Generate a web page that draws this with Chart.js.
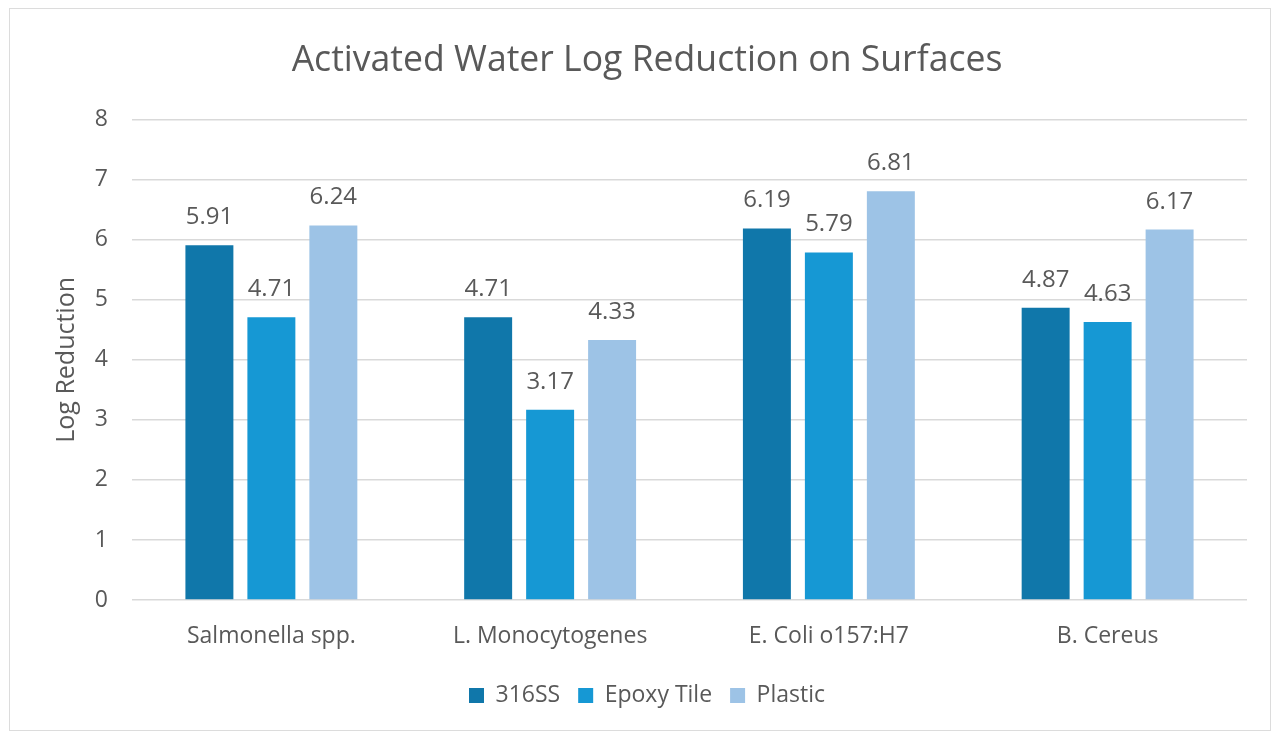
<!DOCTYPE html>
<html>
<head>
<meta charset="utf-8">
<title>Activated Water Log Reduction on Surfaces</title>
<script src="https://cdn.jsdelivr.net/npm/chart.js@4.4.1/dist/chart.umd.min.js"></script>
<style>
  html, body { margin: 0; padding: 0; background: #ffffff; }
  #wrap { position: relative; width: 1282px; height: 733px; }
  #frame {
    position: absolute; left: 9px; top: 8px; width: 1260px; height: 721px;
    border: 1.5px solid #dcdcdc;
  }
  #chart { position: absolute; left: 0; top: 0; }
</style>
</head>
<body>
<div id="wrap">
  <div id="frame"></div>
  <canvas id="chart" width="1282" height="733"></canvas>
</div>
<script>
// Organisms tested (x categories)
const categories = ['Salmonella spp.', 'L. Monocytogenes', 'E. Coli o157:H7', 'B. Cereus'];

// Log reduction per surface material
const ss316 = [5.91, 4.71, 6.19, 4.87];
const epoxyTile = [4.71, 3.17, 5.79, 4.63];
const plastic = [6.24, 4.33, 6.81, 6.17];

const seriesNames = ['316SS', 'Epoxy Tile', 'Plastic'];
const seriesColors = ['#1077aa', '#1698d4', '#9dc3e6'];

// Y axis range and step
const yMin = 0;
const yMax = 8;
const yStep = 1;

const FONT = "'Open Sans', 'Liberation Sans', sans-serif";
const TEXT = '#595959';

// Draws each bar's value above it
const valueLabels = {
  id: 'valueLabels',
  afterDatasetsDraw(chart) {
    const ctx = chart.ctx;
    ctx.save();
    ctx.font = '24px ' + FONT;
    ctx.fillStyle = TEXT;
    ctx.textAlign = 'center';
    ctx.textBaseline = 'alphabetic';
    chart.data.datasets.forEach((ds, i) => {
      const meta = chart.getDatasetMeta(i);
      meta.data.forEach((bar, j) => {
        ctx.fillText(ds.data[j].toFixed(2), bar.x, bar.y - 21);
      });
    });
    ctx.restore();
  }
};

const seriesData = [ss316, epoxyTile, plastic];

new Chart(document.getElementById('chart'), {
  type: 'bar',
  data: {
    labels: categories,
    datasets: seriesNames.map((name, i) => ({
      label: name,
      data: seriesData[i],
      backgroundColor: seriesColors[i],
      borderWidth: 0,
      categoryPercentage: 0.667,
      barPercentage: 0.774
    }))
  },
  options: {
    responsive: false,
    animation: false,
    devicePixelRatio: 1,
    layout: { padding: { left: 47, right: 35, top: 10, bottom: 16 } },
    plugins: {
      title: {
        display: true,
        text: 'Activated Water Log Reduction on Surfaces',
        color: TEXT,
        font: { family: FONT, size: 35.6, weight: 'normal' },
        padding: { top: 29, bottom: 38 }
      },
      legend: {
        position: 'bottom',
        labels: {
          color: TEXT,
          font: { family: FONT, size: 23 },
          boxWidth: 15,
          boxHeight: 15,
          padding: 18
        }
      },
      tooltip: { enabled: false }
    },
    scales: {
      x: {
        grid: { display: false },
        border: { display: false },
        ticks: {
          color: TEXT,
          font: { family: FONT, size: 23 },
          padding: 15
        },
        afterFit(scale) { scale.height = 66; }
      },
      y: {
        min: yMin,
        max: yMax,
        ticks: {
          stepSize: yStep,
          color: TEXT,
          font: { family: FONT, size: 23 },
          padding: 24
        },
        grid: { color: '#d9d9d9', lineWidth: 1.5, drawTicks: false },
        border: { display: false },
        title: {
          display: true,
          text: 'Log Reduction',
          color: TEXT,
          font: { family: FONT, size: 25 },
          padding: { top: 5, bottom: 0 }
        },
        afterFit(scale) { scale.width = 85; }
      }
    }
  },
  plugins: [valueLabels]
});
</script>
</body>
</html>
